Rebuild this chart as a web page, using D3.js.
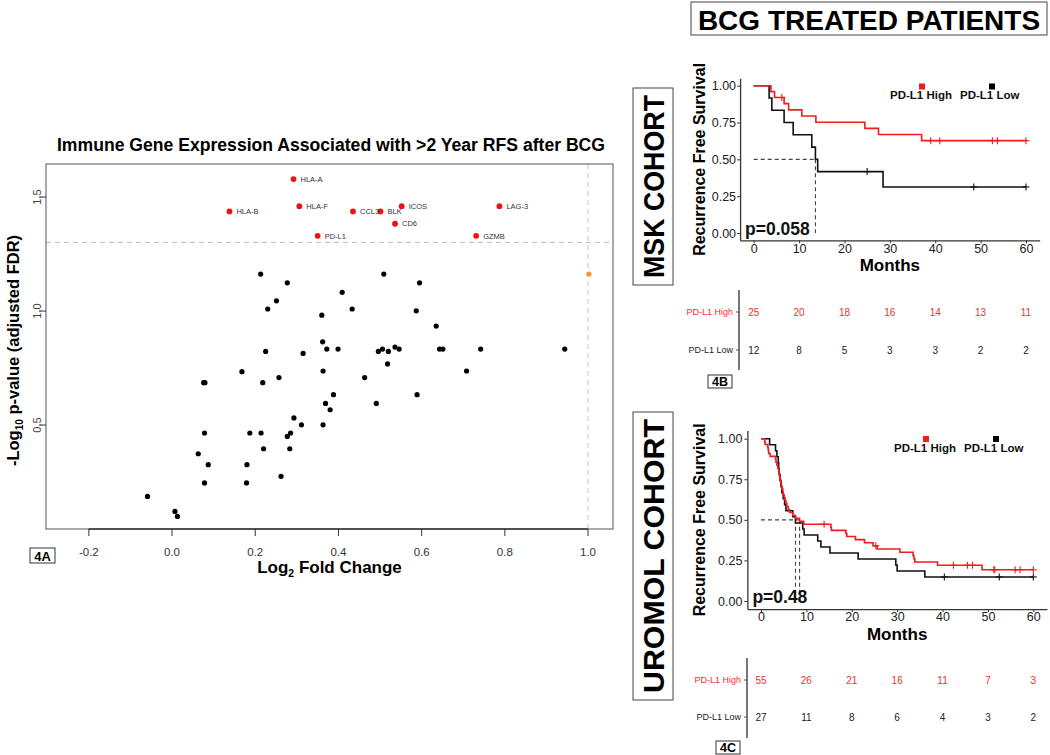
<!DOCTYPE html>
<html><head><meta charset="utf-8">
<script src="https://cdn.jsdelivr.net/npm/d3@7"></script>
<style>body{margin:0;background:#fff} svg{display:block} text{font-family:"Liberation Sans",Arial,sans-serif}</style>
</head><body><svg id="c" width="1050" height="755"></svg>
<script>
// ---------------- DATA ----------------
// Volcano plot (4A)
const sigGenes  = ["HLA-A","HLA-B","HLA-F","CCL3","BLK","ICOS","CD6","PD-L1","GZMB","LAG-3"];
const sigLogFC  = [0.292,0.138,0.306,0.435,0.501,0.552,0.536,0.350,0.731,0.787];
const sigLogFDR = [1.579,1.437,1.460,1.437,1.437,1.460,1.383,1.330,1.330,1.460];
const nsLogFC  = [0.213,0.509,0.277,0.595,0.409,0.251,0.230,0.433,0.587,0.360,0.635,0.362,0.225,0.315,0.372,0.399,0.496,0.506,0.520,0.536,0.546,0.643,0.651,0.742,0.944,0.518,0.168,0.363,0.708,0.257,0.463,0.076,0.079,0.218,0.388,0.589,0.369,0.491,0.380,0.293,0.311,0.363,0.078,0.187,0.214,0.277,0.285,0.220,0.283,0.063,0.087,0.180,0.262,0.078,0.179,-0.059,0.007,0.013];
const nsLogFDR = [1.162,1.162,1.124,1.124,1.082,1.045,1.009,1.009,1.001,0.982,0.934,0.865,0.823,0.814,0.833,0.833,0.823,0.833,0.823,0.842,0.833,0.833,0.833,0.833,0.833,0.768,0.734,0.737,0.737,0.708,0.708,0.686,0.686,0.686,0.633,0.633,0.595,0.595,0.567,0.531,0.501,0.501,0.465,0.465,0.465,0.450,0.465,0.396,0.396,0.374,0.326,0.326,0.275,0.246,0.246,0.187,0.121,0.099];
const fcLogFC  = [1.002];
const fcLogFDR = [1.162];
const volcanoXTicks = [-0.2,0.0,0.2,0.4,0.6,0.8,1.0];
const volcanoYTicks = [0.5,1.0,1.5];
const fdrThreshold = 1.301;
const fcThreshold = 1.0;

// Kaplan-Meier, MSK cohort (4B)
const mskHighT = [0,3.8,4.6,6.7,7.7,10.6,13.7,24.5,27.5,37.0,60];
const mskHighS = [1,0.96,0.92,0.878,0.836,0.794,0.752,0.71,0.669,0.627,0.627];
const mskHighCensT = [6.2,39.0,41.0,52.6,53.7,60];
const mskHighCensS = [0.92,0.627,0.627,0.627,0.627,0.627];
const mskLowT = [0,3.4,4.0,6.7,8.7,12.8,13.6,14.1,28.5,60];
const mskLowS = [1,0.917,0.833,0.75,0.667,0.583,0.5,0.417,0.3125,0.3125];
const mskLowCensT = [25.0,48.5,60];
const mskLowCensS = [0.417,0.3125,0.3125];
const mskMedians = [13.6];
const mskP = "p=0.058";
const mskRiskHigh = [25,20,18,16,14,13,11];
const mskRiskLow  = [12,8,5,3,3,2,2];

// Kaplan-Meier, UROMOL cohort (4C)
const uroHighT = [0,0.8,0.9,1.5,1.6,1.7,2.0,3.2,3.3,3.5,3.7,3.9,4.0,4.1,4.2,4.4,4.5,4.6,4.8,4.9,5.1,5.3,5.5,5.7,6.0,6.3,7.0,7.6,8.5,9.4,15.4,15.5,18.7,18.9,20.8,22.8,24.7,25.6,30.6,33.5,33.7,33.9,38.9,48.7,60];
const uroHighS = [1,0.982,0.964,0.945,0.927,0.909,0.891,0.873,0.855,0.836,0.818,0.8,0.782,0.764,0.745,0.727,0.709,0.691,0.673,0.655,0.636,0.618,0.6,0.582,0.564,0.545,0.527,0.509,0.491,0.473,0.454,0.435,0.416,0.397,0.378,0.359,0.34,0.32,0.30,0.28,0.26,0.24,0.22,0.1925,0.1925];
const uroHighCensT = [13.9,25.3,42.4,45.5,46.6,51.3,51.5,56.0,57.1,60];
const uroHighCensS = [0.473,0.34,0.22,0.22,0.22,0.1925,0.1925,0.1925,0.1925,0.1925];
const uroLowT = [0,1.9,3.2,3.5,3.8,3.9,4.0,4.2,4.4,4.6,4.9,5.2,5.5,7.0,7.6,9.2,9.5,12.5,13.2,15.2,21.4,29.7,30.0,36.1,60];
const uroLowS = [1,0.963,0.926,0.889,0.852,0.815,0.778,0.741,0.704,0.667,0.63,0.593,0.556,0.519,0.481,0.444,0.407,0.37,0.333,0.296,0.259,0.222,0.185,0.148,0.148];
const uroLowCensT = [40.4,52.5,60];
const uroLowCensS = [0.148,0.148,0.148];
const uroMedians = [7.6,8.5];
const uroP = "p=0.48";
const uroRiskHigh = [55,26,21,16,11,7,3];
const uroRiskLow  = [27,11,8,6,4,3,2];

const kmTimeTicks = [0,10,20,30,40,50,60];
const kmSurvTicks = [0,0.25,0.5,0.75,1.0];
const groupNames = ["PD-L1 High","PD-L1 Low"];

// ---------------- DRAW ----------------
const svg = d3.select("#c");
svg.append("rect").attr("width",1050).attr("height",755).attr("fill","#fff");
const RED = "#f21c1c", BLACK = "#111";

// ===== Volcano =====
(function(){
  const L=46,R=613,T=164,B=529;
  const x = d3.scaleLinear().domain([-0.303,1.060]).range([L,R]);
  const y = d3.scaleLinear().domain([0.044,1.645]).range([B,T]);
  const g = svg.append("g");
  g.append("text").attr("x",331).attr("y",151).attr("text-anchor","middle")
    .attr("font-size",17.6).attr("font-weight","bold").text("Immune Gene Expression Associated with >2 Year RFS after BCG");
  // threshold lines
  g.append("line").attr("x1",L).attr("x2",R).attr("y1",y(fdrThreshold)).attr("y2",y(fdrThreshold))
    .attr("stroke","#bdbdbd").attr("stroke-dasharray","5,4").attr("stroke-width",1);
  g.append("line").attr("x1",x(fcThreshold)).attr("x2",x(fcThreshold)).attr("y1",T).attr("y2",B)
    .attr("stroke","#cfcfcf").attr("stroke-dasharray","5,4").attr("stroke-width",1.2);
  g.append("rect").attr("x",L).attr("y",T).attr("width",R-L).attr("height",B-T)
    .attr("fill","none").attr("stroke","#555").attr("stroke-width",1);
  // x axis
  const xa = g.append("g");
  xa.append("line").attr("x1",x(volcanoXTicks[0])).attr("x2",x(volcanoXTicks[volcanoXTicks.length-1]))
    .attr("y1",B).attr("y2",B).attr("stroke","#333").attr("stroke-width",1.5);
  volcanoXTicks.forEach(v=>{
    xa.append("line").attr("x1",x(v)).attr("x2",x(v)).attr("y1",B).attr("y2",B+7).attr("stroke","#333");
    xa.append("text").attr("x",x(v)).attr("y",556).attr("text-anchor","middle").attr("font-size",11.5).attr("fill","#333")
      .text(v.toFixed(1));
  });
  // y axis
  volcanoYTicks.forEach(v=>{
    g.append("line").attr("x1",L-7).attr("x2",L).attr("y1",y(v)).attr("y2",y(v)).attr("stroke","#333");
    g.append("text").attr("transform",`translate(41,${y(v)}) rotate(-90)`).attr("text-anchor","middle")
      .attr("font-size",11).attr("fill","#444").text(v.toFixed(1));
  });
  // axis titles
  const yl = g.append("text").attr("transform",`translate(19,${(T+B)/2+4}) rotate(-90)`).attr("text-anchor","middle")
    .attr("font-size",16.5).attr("font-weight","bold");
  yl.append("tspan").text("-Log");
  yl.append("tspan").attr("font-size",10).attr("dy",4).text("10");
  yl.append("tspan").attr("dy",-4).text(" p-value (adjusted FDR)");
  const xl = g.append("text").attr("x",(L+R)/2).attr("y",573).attr("text-anchor","middle")
    .attr("font-size",17).attr("font-weight","bold");
  xl.append("tspan").text("Log");
  xl.append("tspan").attr("font-size",10.5).attr("dy",4).text("2");
  xl.append("tspan").attr("dy",-4).text(" Fold Change");
  // panel tag
  g.append("rect").attr("x",30).attr("y",548).attr("width",25).attr("height",15).attr("fill","#fff").attr("stroke","#333");
  g.append("text").attr("x",42.5).attr("y",560.5).attr("text-anchor","middle").attr("font-size",13).attr("font-weight","bold").text("4A");
  // points
  g.selectAll(".ns").data(nsLogFC).enter().append("circle")
    .attr("cx",d=>x(d)).attr("cy",(d,i)=>y(nsLogFDR[i])).attr("r",2.6).attr("fill","#000");
  g.selectAll(".fc").data(fcLogFC).enter().append("circle")
    .attr("cx",d=>x(d)).attr("cy",(d,i)=>y(fcLogFDR[i])).attr("r",2.7).attr("fill","#f39a2e");
  g.selectAll(".sig").data(sigLogFC).enter().append("circle")
    .attr("cx",d=>x(d)).attr("cy",(d,i)=>y(sigLogFDR[i])).attr("r",2.9).attr("fill","#ee1111");
  g.selectAll(".lab").data(sigGenes).enter().append("text")
    .attr("x",(d,i)=>x(sigLogFC[i])+7).attr("y",(d,i)=>y(sigLogFDR[i])+2.7)
    .attr("font-size",7.5).attr("fill","#333").text(d=>d);
})();

// ===== Headers =====
svg.append("rect").attr("x",691).attr("y",2).attr("width",356).attr("height",33).attr("fill","none").attr("stroke","#444");
svg.append("text").attr("x",869).attr("y",29.5).attr("text-anchor","middle").attr("font-size",28).attr("font-weight","bold").text("BCG TREATED PATIENTS");
function cohortBox(y0,h,label,len){
  svg.append("rect").attr("x",633).attr("y",y0).attr("width",40).attr("height",h).attr("fill","none").attr("stroke","#444");
  svg.append("text").attr("transform",`translate(664,${y0+h/2}) rotate(-90)`).attr("text-anchor","middle")
    .attr("font-size",30).attr("font-weight","bold").attr("textLength",len).attr("lengthAdjust","spacingAndGlyphs").text(label);
}
cohortBox(88,197,"MSK COHORT",183);
cohortBox(412,288,"UROMOL COHORT",274);

// ===== KM =====
function drawKM(o){
  const ppm = (o.px60-o.px0)/60;
  const x = d3.scaleLinear().domain([-3,63]).range([o.px0-3*ppm, o.px60+3*ppm]);
  const u = o.py0-o.py1;
  const y = d3.scaleLinear().domain([-0.05,1.05]).range([o.py0+0.05*u, o.py1-0.05*u]);
  const g = svg.append("g");
  const [xl,xr] = x.range(), [yb,yt] = y.range();
  // median lines
  const medMax = d3.max(o.med);
  g.append("line").attr("x1",x(0)).attr("x2",x(medMax)).attr("y1",y(0.5)).attr("y2",y(0.5))
    .attr("stroke","#444").attr("stroke-dasharray","4,3").attr("stroke-width",1.1);
  o.med.forEach(m=>g.append("line").attr("x1",x(m)).attr("x2",x(m)).attr("y1",y(0.5)).attr("y2",y(0))
    .attr("stroke","#444").attr("stroke-dasharray","4,3").attr("stroke-width",1.1));
  // axes
  const ax = g.append("g").attr("transform",`translate(0,${yb})`)
    .call(d3.axisBottom(x).tickValues(kmTimeTicks).tickSize(3).tickSizeOuter(0).tickPadding(0.5));
  const ay = g.append("g").attr("transform",`translate(${xl},0)`)
    .call(d3.axisLeft(y).tickValues(kmSurvTicks).tickFormat(d3.format(".2f")).tickSize(3).tickSizeOuter(0).tickPadding(o.ypad));
  [ax,ay].forEach(a=>{
    a.select(".domain").attr("stroke","#333").attr("stroke-width",1.3);
    a.selectAll(".tick line").attr("stroke","#333");
    a.selectAll(".tick text").attr("font-size",12.5).attr("fill","#222").attr("font-family","Liberation Sans, Arial, sans-serif");
  });
  g.append("text").attr("x",(xl+xr)/2).attr("y",yb+31).attr("text-anchor","middle").attr("font-size",17).attr("font-weight","bold").text("Months");
  g.append("text").attr("transform",`translate(705,${(yb+yt)/2}) rotate(-90)`).attr("text-anchor","middle")
    .attr("font-size",16).attr("font-weight","bold").text("Recurrence Free Survival");
  // curves
  const line = d3.line().curve(d3.curveStepAfter).x(d=>x(d[0])).y(d=>y(d[1]));
  const curves = [[o.lowT,o.lowS,BLACK],[o.highT,o.highS,RED]];
  curves.forEach(([T,S,c])=>{
    g.append("path").attr("d",line(T.map((t,i)=>[t,S[i]]))).attr("fill","none").attr("stroke",c).attr("stroke-width",1.6);
  });
  [[o.lowCT,o.lowCS,BLACK],[o.highCT,o.highCS,RED]].forEach(([T,S,c])=>{
    T.forEach((t,i)=>{
      g.append("line").attr("x1",x(t)).attr("x2",x(t)).attr("y1",y(S[i])-3.5).attr("y2",y(S[i])+3.5).attr("stroke",c).attr("stroke-width",1.1);
      g.append("line").attr("x1",x(t)-3.5).attr("x2",x(t)+3.5).attr("y1",y(S[i])).attr("y2",y(S[i])).attr("stroke",c).attr("stroke-width",1.1);
    });
  });
  // p-value
  g.append("text").attr("x",xl+5).attr("y",y(0)+2).attr("font-size",17.5).attr("font-weight","bold").attr("fill","#111").text(o.p);
  // legend
  [[groupNames[0],o.legX[0],RED],[groupNames[1],o.legX[1],"#000"]].forEach(([t,lx,c])=>{
    g.append("text").attr("x",lx).attr("y",o.legY).attr("font-size",11.5).attr("font-weight","bold").attr("fill","#111").text(t);
    g.append("rect").attr("x",lx+29).attr("y",o.legY-15.5).attr("width",6).attr("height",6).attr("fill",c);
  });
  // risk table
  const rt = svg.append("g");
  rt.append("line").attr("x1",o.rtX).attr("x2",o.rtX).attr("y1",o.rtY0).attr("y2",o.rtY1).attr("stroke","#555").attr("stroke-width",1.6);
  [[groupNames[0],o.riskHigh,o.rowY[0],"#f03030"],[groupNames[1],o.riskLow,o.rowY[1],"#222"]].forEach(([nm,vals,ry,c])=>{
    rt.append("text").attr("x",o.rtX-6).attr("y",ry+3.3).attr("text-anchor","end").attr("font-size",9).attr("fill",c).text(nm);
    rt.append("line").attr("x1",o.rtX-3).attr("x2",o.rtX).attr("y1",ry).attr("y2",ry).attr("stroke","#555");
    vals.forEach((v,i)=>rt.append("text").attr("x",x(kmTimeTicks[i])).attr("y",ry+3.8).attr("text-anchor","middle")
      .attr("font-size",10).attr("fill",c).text(v));
  });
  rt.append("rect").attr("x",o.tag[0]).attr("y",o.tag[1]).attr("width",24).attr("height",13).attr("fill","#fff").attr("stroke","#333");
  rt.append("text").attr("x",o.tag[0]+12).attr("y",o.tag[1]+11).attr("text-anchor","middle").attr("font-size",12.5).attr("font-weight","bold").text(o.tagText);
}

drawKM({px0:753.7,px60:1026,py0:233,py1:85.7,ypad:1,
  highT:mskHighT,highS:mskHighS,highCT:mskHighCensT,highCS:mskHighCensS,
  lowT:mskLowT,lowS:mskLowS,lowCT:mskLowCensT,lowCS:mskLowCensS,
  med:mskMedians,p:mskP,legX:[890,960],legY:99,
  riskHigh:mskRiskHigh,riskLow:mskRiskLow,rtX:739,rtY0:290,rtY1:370,rowY:[312,350],tag:[708,375],tagText:"4B"});
drawKM({px0:761,px60:1033.3,py0:601,py1:438.7,ypad:2,
  highT:uroHighT,highS:uroHighS,highCT:uroHighCensT,highCS:uroHighCensS,
  lowT:uroLowT,lowS:uroLowS,lowCT:uroLowCensT,lowCS:uroLowCensS,
  med:uroMedians,p:uroP,legX:[894,964],legY:451.5,
  riskHigh:uroRiskHigh,riskLow:uroRiskLow,rtX:747,rtY0:658,rtY1:738,rowY:[680,717],tag:[716,741],tagText:"4C"});
</script></body></html>
